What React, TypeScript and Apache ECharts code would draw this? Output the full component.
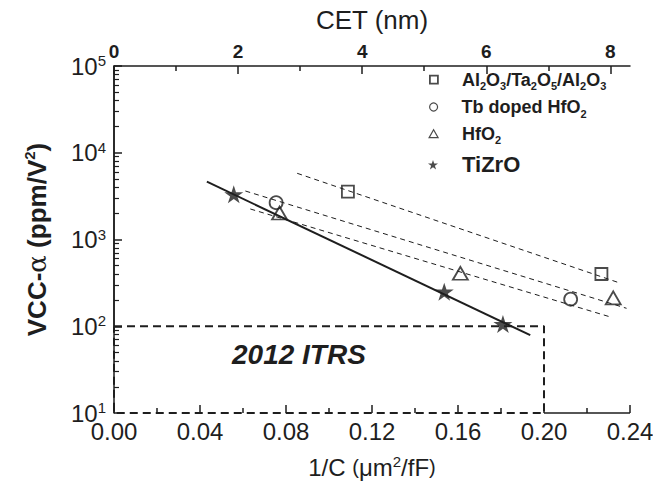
import React, { useEffect, useRef } from "react";
import * as echarts from "echarts";

// ---- data ----
const xTickValues = [0, 0.04, 0.08, 0.12, 0.16, 0.2, 0.24];
const cetTickValues = [0, 2, 4, 6, 8];
const cetMinorTickValues = [1, 3, 5, 7];
const cetPerInvC = 34.65; // CET (nm) per 1/C (um^2/fF)

const seriesNames = ["Al2O3/Ta2O5/Al2O3", "Tb doped HfO2", "HfO2", "TiZrO"];
const alData = [[0.1088, 3556], [0.2267, 400]];
const tbData = [[0.0754, 2656], [0.2124, 205]];
const hfData = [[0.077, 2020], [0.1611, 408], [0.2322, 212]];
const tizroData = [[0.0557, 3320], [0.1536, 250], [0.1809, 106]];

const alFit = [[0.0852, 5795], [0.2348, 318]];
const tbFit = [[0.0611, 3623], [0.2384, 161]];
const hfFit = [[0.0634, 2248], [0.2318, 126]];
const tizroFit = [[0.0432, 4637], [0.1936, 79]];

const itrsBox = [[0, 100], [0.2, 100], [0.2, 10], [0, 10], [0, 100]];
const frameBottom = [[0.2, 10], [0.24, 10]];
const frameLeft = [[0, 100], [0, 100000]];
const itrsLabel = "2012 ITRS";

const legendLabels: Record<string, string> = {
  "Al2O3/Ta2O5/Al2O3":
    "{f|Al}{sub|2}{n|O}{sub|3}{n|/Ta}{sub|2}{n|O}{sub|5}{n|/Al}{sub|2}{n|O}{sub|3}",
  "Tb doped HfO2": "{f|Tb doped HfO}{sub|2}",
  HfO2: "{f|HfO}{sub|2}",
  TiZrO: "{big|TiZrO}",
};

const INK = "#1e1e1e";
const FONT = "'Liberation Sans', Arial, Helvetica, sans-serif";
const STAR =
  "path://M50,0L61.23,34.55L97.55,34.55L68.16,55.9L79.39,90.45L50,69.1L20.61,90.45L31.84,55.9L2.45,34.55L38.77,34.55Z";

export default function App() {
  const ref = useRef<HTMLDivElement>(null);

  useEffect(() => {
    document.body.style.margin = "0";
    const chart = echarts.init(ref.current!, null, { renderer: "svg" });

    const fitLine = (name: string, data: number[][], dashed: boolean, width: number) => ({
      type: "line",
      name,
      data,
      symbol: "none",
      silent: true,
      clip: false,
      z: 2,
      lineStyle: { color: INK, width, type: dashed ? [5, 4] : "solid" },
    });

    const hollow = { color: "transparent", borderColor: INK, borderWidth: 1.8 };

    const legendRich = {
      f: { fontSize: 18, fontWeight: "bold", lineHeight: 24, padding: [0, 0, 0, 19], fontFamily: FONT, color: INK },
      n: { fontSize: 18, fontWeight: "bold", lineHeight: 24, fontFamily: FONT, color: INK },
      sub: { fontSize: 11, fontWeight: "bold", lineHeight: 10, verticalAlign: "bottom", fontFamily: FONT, color: INK },
      big: { fontSize: 22, fontWeight: "bold", lineHeight: 26, padding: [0, 0, 0, 19], fontFamily: FONT, color: INK },
    };

    const mkLegend = (name: string, top: number, w: number, h: number, style: any) => ({
      show: true,
      data: [name],
      orient: "vertical",
      left: 433 - w / 2,
      top,
      padding: 0,
      itemWidth: w,
      itemHeight: h,
      itemStyle: style,
      selectedMode: false,
      formatter: (n: string) => legendLabels[n],
      textStyle: { rich: legendRich, color: INK },
    });

    const option: any = {
      animation: false,
      backgroundColor: "#fff",
      textStyle: { fontFamily: FONT },
      grid: { left: 114, right: 23, top: 66, bottom: 71, containLabel: false, outerBoundsMode: "none" },
      legend: [
        mkLegend(seriesNames[0], 82.7 - 12, 8, 8, hollow),
        mkLegend(seriesNames[1], 110 - 12, 8, 8, { ...hollow, borderWidth: 1.2 }),
        mkLegend(seriesNames[2], 136.7 - 12, 9, 8, { ...hollow, borderWidth: 1.2 }),
        mkLegend(seriesNames[3], 166.7 - 13, 10, 10, { color: INK, borderWidth: 0 }),
      ],
      xAxis: [
        {
          type: "value",
          position: "bottom",
          min: 0,
          max: 0.24,
          interval: 0.04,
          axisLine: { show: false },
          splitLine: { show: false },
          axisTick: { show: true, inside: true, length: 8, lineStyle: { color: INK, width: 1.5 } },
          minorTick: { show: true, splitNumber: 2, length: 5, lineStyle: { color: INK, width: 1.5 } },
          axisLabel: {
            customValues: xTickValues,
            formatter: (v: number) => v.toFixed(2),
            fontSize: 24,
            color: INK,
            margin: 6,
            fontFamily: FONT,
          },
          name: "{n|1/C }{p|(}{n|μm}{s|2}{n|/fF}{p|)}",
          nameLocation: "middle",
          nameGap: 41,
          nameTextStyle: {
            rich: {
              n: { fontSize: 24, color: INK, fontFamily: FONT, lineHeight: 26 },
              p: { fontSize: 20, color: INK, fontFamily: FONT, lineHeight: 26 },
              s: { fontSize: 15, color: INK, fontFamily: FONT, verticalAlign: "top", lineHeight: 12 },
            },
          },
        },
        {
          type: "value",
          position: "top",
          min: 0,
          max: 0.24 * cetPerInvC,
          axisLine: { show: true, lineStyle: { color: INK, width: 1.5 } },
          splitLine: { show: false },
          axisTick: {
            show: true,
            inside: true,
            length: 8,
            customValues: cetTickValues,
            lineStyle: { color: INK, width: 1.5 },
          },
          axisLabel: {
            customValues: cetTickValues,
            fontSize: 19,
            fontWeight: "bold",
            color: INK,
            margin: 5,
            fontFamily: FONT,
          },
          name: "CET (nm)",
          nameLocation: "middle",
          nameGap: 33,
          nameTextStyle: { fontSize: 26, color: INK, fontFamily: FONT },
        },
        {
          type: "value",
          position: "top",
          offset: 0,
          min: 0,
          max: 0.24 * cetPerInvC,
          axisLine: { show: false },
          splitLine: { show: false },
          axisTick: {
            show: true,
            inside: true,
            length: 5,
            customValues: cetMinorTickValues,
            lineStyle: { color: INK, width: 1.5 },
          },
          axisLabel: { show: false },
        },
      ],
      yAxis: [
        {
          type: "log",
          logBase: 10,
          min: 10,
          max: 100000,
          axisLine: { show: false },
          splitLine: { show: false },
          axisTick: { show: true, inside: true, length: 8, lineStyle: { color: INK, width: 1.5 } },
          minorTick: { show: true, splitNumber: 9, length: 5, lineStyle: { color: INK, width: 1.2 } },
          axisLabel: {
            formatter: (v: number) => `{b|10}{s|${Math.round(Math.log10(v))}}`,
            margin: 8,
            rich: {
              b: { fontSize: 24, color: INK, fontFamily: FONT, lineHeight: 26 },
              s: { fontSize: 15, color: INK, fontFamily: FONT, verticalAlign: "top", lineHeight: 14 },
            },
          },
          name: "{b|VCC-}{a|α}{b| (ppm/V}{s|2}{b|)}",
          nameLocation: "middle",
          nameRotate: 90,
          nameGap: 62,
          nameTextStyle: {
            rich: {
              b: { fontSize: 26, fontWeight: "bold", color: INK, fontFamily: FONT, lineHeight: 30 },
              a: { fontSize: 26, color: INK, fontFamily: "'DejaVu Serif', serif", lineHeight: 30 },
              s: { fontSize: 15, fontWeight: "bold", color: INK, fontFamily: FONT, verticalAlign: "top", lineHeight: 14 },
            },
          },
        },
        {
          type: "log",
          position: "right",
          min: 10,
          max: 100000,
          axisLine: { show: true, lineStyle: { color: INK, width: 1.5 } },
          axisTick: { show: false },
          axisLabel: { show: false },
          splitLine: { show: false },
        },
      ],
      graphic: [
        {
          type: "text",
          left: 232,
          top: 340,
          style: {
            text: itrsLabel,
            fontSize: 28,
            fontWeight: "bold",
            fontStyle: "italic",
            fill: INK,
            fontFamily: FONT,
          },
        },
      ],
      series: [
        fitLine("alFit", alFit, true, 1),
        fitLine("tbFit", tbFit, true, 1),
        fitLine("hfFit", hfFit, true, 1),
        fitLine("tizroFit", tizroFit, false, 2),
        {
          type: "line",
          name: "itrs",
          data: itrsBox,
          symbol: "none",
          silent: true,
          clip: false,
          z: 3,
          lineStyle: { color: INK, width: 2, type: [8, 5] },
        },
        {
          type: "line",
          name: "frameBottom",
          data: frameBottom,
          symbol: "none",
          silent: true,
          clip: false,
          lineStyle: { color: INK, width: 1.5 },
        },
        {
          type: "line",
          name: "frameLeft",
          data: frameLeft,
          symbol: "none",
          silent: true,
          clip: false,
          lineStyle: { color: INK, width: 1.5 },
        },
        {
          type: "scatter",
          name: seriesNames[0],
          data: alData,
          symbol: "rect",
          symbolSize: 12,
          z: 5,
          itemStyle: hollow,
        },
        {
          type: "scatter",
          name: seriesNames[1],
          data: tbData,
          symbol: "circle",
          symbolSize: 13,
          z: 5,
          itemStyle: hollow,
        },
        {
          type: "scatter",
          name: seriesNames[2],
          data: hfData,
          symbol: "triangle",
          symbolSize: [15, 13],
          z: 5,
          itemStyle: hollow,
        },
        {
          type: "scatter",
          name: seriesNames[3],
          data: tizroData,
          symbol: STAR,
          symbolKeepAspect: true,
          symbolSize: 19,
          z: 6,
          itemStyle: { color: INK },
        },
      ],
    };

    chart.setOption(option);
    return () => chart.dispose();
  }, []);

  return <div ref={ref} style={{ width: 653, height: 484 }} />;
}
